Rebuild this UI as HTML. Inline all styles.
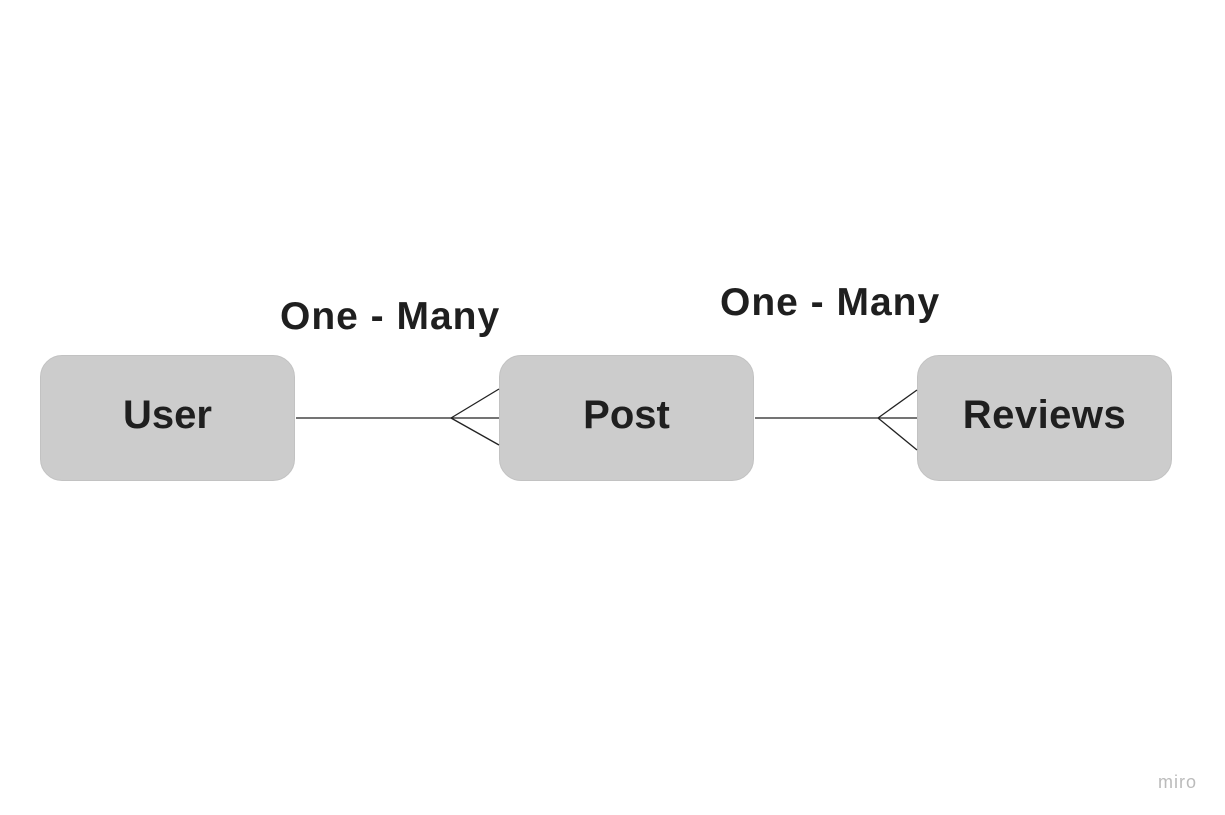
<!DOCTYPE html>
<html><head><style>
body{margin:0;width:1225px;height:815px;background:#fff;position:relative;overflow:hidden;font-family:"Liberation Sans",sans-serif}
.box{position:absolute;top:355px;width:255px;height:126px;background:#cccccc;border:1px solid #c2c2c2;border-radius:22px;box-sizing:border-box;display:flex;align-items:center;justify-content:center;font-weight:bold;font-size:40px;color:#1f1f1f;padding-bottom:6px}
.lbl{position:absolute;font-weight:bold;font-size:39px;color:#1f1f1f;letter-spacing:1px}
</style></head><body>
<div class="box" style="left:40px">User</div>
<div class="box" style="left:499px">Post</div>
<div class="box" style="left:917px;letter-spacing:0.5px">Reviews</div>
<div class="lbl" style="left:280px;top:295px">One - Many</div>
<div class="lbl" style="left:720px;top:281px">One - Many</div>
<svg width="1225" height="815" style="position:absolute;left:0;top:0">
<g stroke="#222" stroke-width="1.3" fill="none">
<line x1="296" y1="418" x2="499" y2="418"/>
<line x1="451" y1="418" x2="499" y2="389"/>
<line x1="451" y1="418" x2="499" y2="445"/>
<line x1="755" y1="418" x2="917" y2="418"/>
<line x1="878" y1="418" x2="917" y2="390"/>
<line x1="878" y1="418" x2="917" y2="450"/>
</g>
<text x="1158" y="788" font-family="Liberation Sans" font-size="18" letter-spacing="1" fill="#bbb">miro</text>
</svg>
</body></html>
